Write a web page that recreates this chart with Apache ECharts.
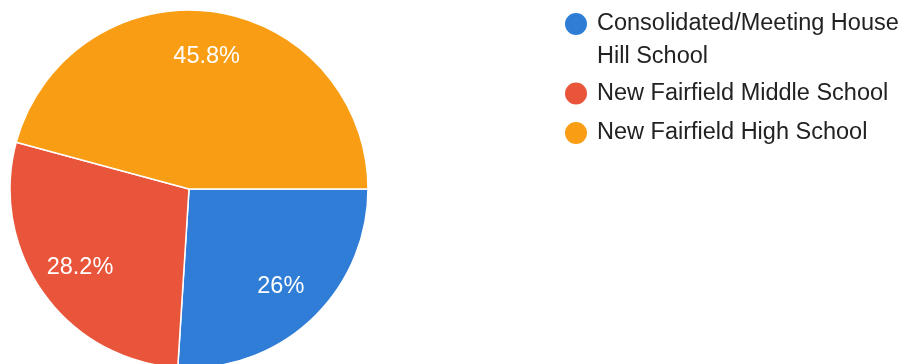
<!DOCTYPE html>
<html>
<head>
<meta charset="utf-8">
<style>
html,body{margin:0;padding:0;background:#fff;}
#chart{width:909px;height:364px;}
</style>
<script src="https://cdn.jsdelivr.net/npm/echarts@6/dist/echarts.min.js"></script>
</head>
<body>
<div id="chart"></div>
<script>
var categories = ['Consolidated/Meeting House Hill School', 'New Fairfield Middle School', 'New Fairfield High School'];
var values = [26, 28.2, 45.8];
var colors = ['#2f7dd7', '#e9553a', '#f99e14'];

var cx = 189, cy = 189, R = 179;
var chart = echarts.init(document.getElementById('chart'), null, {renderer: 'canvas'});
var font = '"Liberation Sans", Arial, sans-serif';

var option = {
  animation: false,
  color: colors,
  legend: {
    orient: 'vertical',
    left: 563,
    top: -25.5,
    padding: 0,
    itemGap: 3.5,
    itemWidth: 24,
    itemHeight: 24,
    icon: 'circle',
    textStyle: {fontFamily: font, fontSize: 23.5, color: '#222', lineHeight: 33, padding: [0, 0, 0, 4]},
    data: [
      {name: categories[0]},
      {name: categories[1]},
      {name: categories[2], textStyle: {padding: [3, 0, 3, 4]}}
    ],
    formatter: function (name) {
      return name === categories[0] ? '\u00a0\nConsolidated/Meeting House\nHill School' : name;
    }
  },
  series: [{
    type: 'pie',
    center: [cx, cy],
    radius: R,
    startAngle: 0,
    clockwise: true,
    avoidLabelOverlap: false,
    itemStyle: {borderColor: '#fff', borderWidth: 1.5},
    label: {
      show: true,
      position: 'inside',
      color: '#fff',
      fontFamily: font,
      fontSize: 23.5,
      formatter: function (p) { return p.value + '%'; }
    },
    labelLine: {show: false},
    labelLayout: function (p) {
      var r = p.labelRect;
      var lx = r.x + r.width / 2, ly = r.y + r.height / 2;
      var k = 1.45;
      return {x: cx + (lx - cx) * k, y: cy + (ly - cy) * k, align: 'center', verticalAlign: 'middle'};
    },
    emphasis: {disabled: true},
    data: categories.map(function (c, i) { return {name: c, value: values[i]}; })
  }]
};
chart.setOption(option);
</script>
</body>
</html>
